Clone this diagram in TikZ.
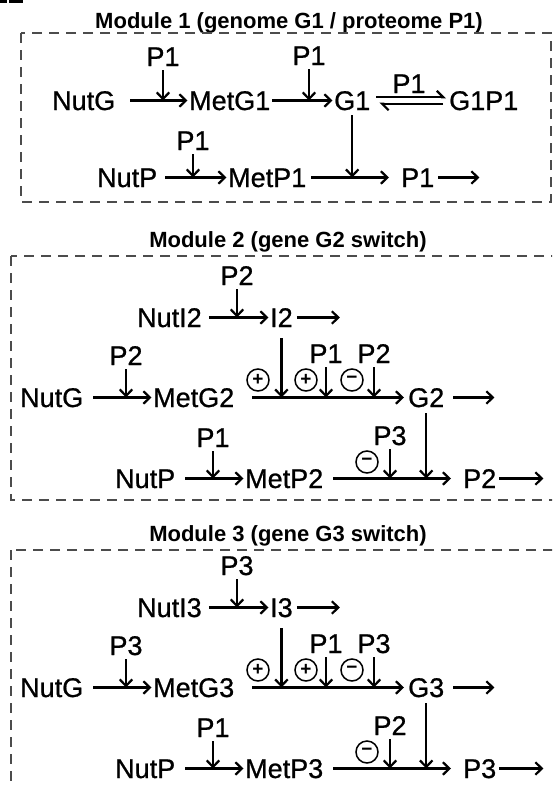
\documentclass[tikz,border=0pt]{standalone}
\usepackage{fontspec}
\setmainfont{Liberation Sans}
\newfontfamily\mainfnt[FakeBold=0.8]{Liberation Sans}
\usetikzlibrary{arrows.meta}
\newcommand\bigtxt{\mainfnt\fontsize{27}{27}\selectfont}
\newcommand\ttltxt{\fontsize{22}{22}\selectfont\bfseries}
\newcommand\sgntxt{\fontsize{19}{19}\selectfont\bfseries}
\tikzset{
 txt/.style={anchor=base west, inner sep=0pt, text height=19pt, text depth=0pt, font=\bigtxt},
 plab/.style={anchor=base, inner sep=0pt, text height=19pt, text depth=0pt, font=\bigtxt},
 ttl/.style={anchor=base, inner sep=0pt, font=\ttltxt},
 sgn/.style={circle, draw, line width=1.5pt, minimum size=22pt, inner sep=0pt, font=\sgntxt},
 rx/.style={->, line width=2.2pt, shorten <=8pt, shorten >=1.5pt},
 reg/.style={->, line width=2.2pt, shorten <=4pt},
 boxline/.style={line width=1.2pt, dash pattern=on 10pt off 7pt, black!70},
 >={Straight Barb[length=6.5pt,width=12.5pt]}
}
\newcommand\swmod[4]{%
 \node[ttl] (T#1) at (288,247+#4) {Module #1 (gene G#1 switch)};
 \draw[boxline] (11,256+#4) rectangle (620,500+#3);
 \begin{scope}[shift={(0,#3)}]
  \node[txt] (NutI#1) at (137,327) {NutI#1};
  \node[txt] (I#1) at (270,327) {I#1};
  \node[plab] (PI#1) at (237,285) {P#1};
  \node[txt] (NutG#1) at (20,407) {NutG};
  \node[txt] (MetG#1) at (153,407) {MetG#1};
  \node[plab] (PG#1) at (126,365) {P#1};
  \node[txt] (G#1) at (408,407) {G#1};
  \node[sgn] (sA#1) at (258,380) {+};
  \node[sgn] (sB#1) at (306,380) {+};
  \node[sgn] (sC#1) at (352,380) {−};
  \node[plab] (PX#1) at (326,363) {P1};
  \node[plab] (PY#1) at (374,363) {P#1};
  \node[txt] (NutP#1) at (115,488) {NutP};
  \node[txt] (MetP#1) at (245,488) {MetP#1};
  \node[plab] (PN#1) at (213,447) {P1};
  \node[sgn] (sD#1) at (367,462) {−};
  \node[plab] (PZ#1) at (390,445) {P#2};
  \node[txt] (Pp#1) at (463,488) {P#1};
  \path (I#1.east) ++(47,0) coordinate (dI#1);
  \path (G#1.east) ++(50,0) coordinate (dG#1);
  \path (Pp#1.east) ++(47,0) coordinate (dP#1);
  \draw[rx, shorten <=7pt] (NutI#1) -- (I#1);
  \draw[rx, shorten <=4pt, shorten >=0pt] (I#1) -- (dI#1);
  \draw[reg] (PI#1.south) -- (PI#1.south |- I#1.west);
  \draw[rx, shorten <=10pt] (NutG#1) -- (MetG#1);
  \draw[reg] (PG#1.south) -- (PG#1.south |- MetG#1.west);
  \draw[rx, shorten <=18pt, shorten >=4pt] (MetG#1) -- (G#1);
  \draw[reg, shorten <=11pt] (I#1.south) -- (I#1.south |- G#1.west);
  \draw[reg] (PX#1.south) -- (PX#1.south |- G#1.west);
  \draw[reg] (PY#1.south) -- (PY#1.south |- G#1.west);
  \draw[rx, shorten <=9pt, shorten >=0pt] (G#1) -- (dG#1);
  \draw[reg, shorten <=6pt] (G#1.south) -- (G#1.south |- Pp#1.west);
  \draw[rx, shorten <=10pt] (NutP#1) -- (MetP#1);
  \draw[reg] (PN#1.south) -- (PN#1.south |- MetP#1.west);
  \draw[rx, shorten <=10pt, shorten >=12pt] (MetP#1) -- (Pp#1);
  \draw[reg] (PZ#1.south) -- (PZ#1.south |- MetP#1.west);
  \draw[rx, shorten <=3pt, shorten >=0pt] (Pp#1) -- (dP#1);
 \end{scope}}
\begin{document}
\begin{tikzpicture}[x=1pt,y=-1pt]
\useasboundingbox (0,0) rectangle (552,785);
\clip (0,0) rectangle (552,785);
\fill[white] (0,0) rectangle (552,785);
\fill (0,0) rectangle (7,3);
\fill (9,0) rectangle (23,3);
% Module 1
\node[ttl] (T1) at (289,28) {Module 1 (genome G1 / proteome P1)};
\draw[boxline] (21,33) rectangle (551,202);
\node[txt] (NutG1) at (52,110) {NutG};
\node[txt] (MetG1) at (189,110) {MetG1};
\node[txt] (G1) at (334,110) {G1};
\node[txt] (G1P1) at (449,110) {G1P1};
\node[plab] (PA1) at (163,66) {P1};
\node[plab] (PB1) at (309,65) {P1};
\node[plab] (PE1) at (409,93) {P1};
\node[txt] (NutP1) at (97,187) {NutP};
\node[txt] (MetP1) at (228,187) {MetP1};
\node[txt] (Pp1) at (401,187) {P1};
\node[plab] (PC1) at (193,150) {P1};
\path (Pp1.east) ++(45,0) coordinate (dP1);
\draw[rx, shorten <=15pt] (NutG1) -- (MetG1);
\draw[rx, shorten <=2pt] (MetG1) -- (G1);
\draw[reg] (PA1.south) -- (PA1.south |- MetG1.west);
\draw[reg] (PB1.south) -- (PB1.south |- G1.west);
\draw[-{Straight Barb[left,length=6.5pt,width=13pt]}, line width=2.2pt, shorten <=6pt, shorten >=3pt] ([yshift=3.2pt]G1.east) -- ([yshift=3.2pt]G1P1.west);
\draw[-{Straight Barb[left,length=6.5pt,width=13pt]}, line width=2.2pt, shorten <=6pt, shorten >=9pt] ([yshift=-3.2pt]G1P1.west) -- ([yshift=-3.2pt]G1.east);
\draw[reg, shorten <=5pt] (G1.south) -- (G1.south |- MetP1.east);
\draw[rx] (NutP1) -- (MetP1);
\draw[rx, shorten <=5pt, shorten >=12pt] (MetP1) -- (Pp1);
\draw[rx, shorten <=4pt, shorten >=0pt] (Pp1) -- (dP1);
\draw[reg] (PC1.south) -- (PC1.south |- MetP1.west);
% Modules 2 and 3
\swmod{2}{3}{0}{0}
\swmod{3}{2}{290}{294}
\end{tikzpicture}
\end{document}
